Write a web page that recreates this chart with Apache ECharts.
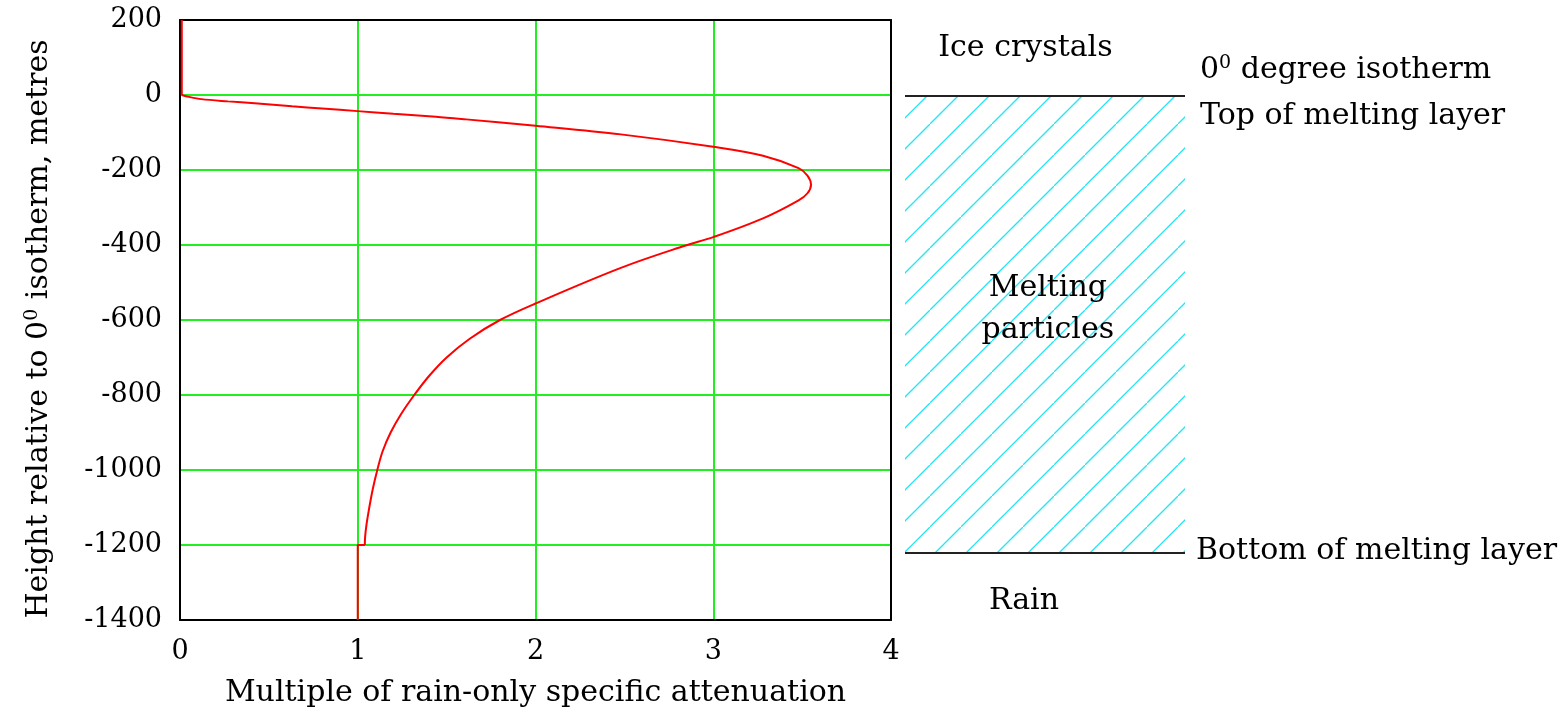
<!DOCTYPE html>
<html><head><meta charset="utf-8">
<script src="https://cdn.jsdelivr.net/npm/echarts@6/dist/echarts.min.js"></script>
<style>html,body{margin:0;padding:0;background:#fff}#c{width:1565px;height:713px}</style>
</head><body><div id="c"></div>
<script>
// ---- data ----
const attenuation = [0.01, 0.01, 0.05, 0.12, 0.27, 0.42, 0.63, 0.80, 1.00, 1.20, 1.44, 1.61, 2.00, 2.48, 3.00, 3.28, 3.48, 3.53, 3.55, 3.53, 3.48, 3.28, 3.00, 2.84, 2.48, 2.00, 1.80, 1.63, 1.50, 1.40, 1.318, 1.245, 1.185, 1.14, 1.11, 1.085, 1.065, 1.048, 1.04, 1.04, 1.00, 1.00];
const heightM     = [200, 0, -5, -11, -17, -22, -30, -36, -43, -50, -58, -65, -82, -105, -138, -162, -195, -215, -239, -262, -281, -329, -379, -402, -461, -556, -600, -650, -700, -750, -800, -850, -900, -950, -1000, -1050, -1100, -1150, -1194, -1200, -1200, -1400];
const xTickValues = [0, 1, 2, 3, 4];
const yTickValues = [200, 0, -200, -400, -600, -800, -1000, -1200, -1400];
const meltingTop = 0;
const meltingBottom = -1200;
const labelIce = 'Ice crystals';
const labelIsoA = '0';
const labelIsoSup = '0';
const labelIsoB = ' degree isotherm';
const labelTop = 'Top of melting layer';
const labelMelting = ['Melting', 'particles'];
const labelBottom = 'Bottom of melting layer';
const labelRain = 'Rain';
const xTitle = 'Multiple of rain-only specific attenuation';
const yTitleA = 'Height relative to 0';
const yTitleSup = '0';
const yTitleB = ' isotherm, metres';

const FONT = 'DejaVu Serif';
const curve = attenuation.map((v, i) => [v, heightM[i]]);
// straight pieces (vertical segment above 0 m, step at the layer bottom) and the smooth profile between
const iTop = heightM.indexOf(meltingTop);
const iBot = heightM.indexOf(meltingBottom);
const topPart = curve.slice(0, iTop + 1);
const midPart = curve.slice(iTop, iBot + 1);
const botPart = curve.slice(iBot);

function hatchCanvas() {
  const s = 31, c = document.createElement('canvas');
  c.width = s; c.height = s;
  const g = c.getContext('2d');
  g.strokeStyle = '#22e4f4'; g.lineWidth = 1.3;
  g.beginPath(); g.moveTo(-3, s + 3); g.lineTo(s + 3, -3); g.stroke();
  return c;
}

const yMin = Math.min(...yTickValues), yMax = Math.max(...yTickValues);
const yInt = yTickValues[0] - yTickValues[1];
const xMin = Math.min(...xTickValues), xMax = Math.max(...xTickValues);

const chart = echarts.init(document.getElementById('c'), null, {renderer: 'canvas'});
const txt = {fontFamily: FONT, color: '#000'};
const richSup = {
  a: {fontFamily: FONT, fontSize: 30, color: '#000'},
  s: {fontFamily: FONT, fontSize: 19, color: '#000', verticalAlign: 'top', padding: [0, 0, 14, 0]}
};
const red = {color: '#ff0000', width: 2};

chart.setOption({
  animation: false,
  backgroundColor: '#fff',
  grid: [
    {left: 180, top: 20, width: 711, height: 609},
    {left: 905, top: 20, width: 280, height: 609}
  ],
  xAxis: [
    {gridIndex: 0, type: 'value', min: xMin, max: xMax, interval: 1,
     axisLine: {show: true, onZero: false, lineStyle: {color: '#000', width: 2}},
     axisTick: {show: false},
     axisLabel: {...txt, fontSize: 27, margin: 18, formatter: v => String(v)},
     splitLine: {show: true, showMinLine: false, showMaxLine: false, lineStyle: {color: '#22ee22', width: 2}},
     name: xTitle, nameLocation: 'middle', nameGap: 58,
     nameTextStyle: {...txt, fontSize: 30}},
    {gridIndex: 0, type: 'value', position: 'top', min: xMin, max: xMax, interval: 1,
     axisLine: {show: true, onZero: false, lineStyle: {color: '#000', width: 2}},
     axisTick: {show: false}, axisLabel: {show: false}, splitLine: {show: false}},
    {gridIndex: 1, type: 'value', min: 0, max: 1, show: false}
  ],
  yAxis: [
    {gridIndex: 0, type: 'value', min: yMin, max: yMax, interval: yInt,
     axisLine: {show: true, onZero: false, lineStyle: {color: '#000', width: 2}},
     axisTick: {show: false},
     axisLabel: {...txt, fontSize: 27, margin: 18, formatter: v => String(v)},
     splitLine: {show: true, showMinLine: false, showMaxLine: false, lineStyle: {color: '#22ee22', width: 2}},
     name: '{a|' + yTitleA + '}{s|' + yTitleSup + '}{a|' + yTitleB + '}',
     nameLocation: 'middle', nameRotate: 90, nameGap: 124,
     nameTextStyle: {...txt, fontSize: 30, rich: richSup, padding: [0, 18, 0, 0]}},
    {gridIndex: 0, type: 'value', position: 'right', min: yMin, max: yMax, interval: yInt,
     axisLine: {show: true, onZero: false, lineStyle: {color: '#000', width: 2}},
     axisTick: {show: false}, axisLabel: {show: false}, splitLine: {show: false}},
    {gridIndex: 1, type: 'value', min: yMin, max: yMax, show: false}
  ],
  series: [
    {type: 'line', xAxisIndex: 0, yAxisIndex: 0, data: topPart, showSymbol: false, lineStyle: red, z: 5},
    {type: 'line', xAxisIndex: 0, yAxisIndex: 0, data: midPart, showSymbol: false, smooth: 0.35, lineStyle: red, z: 5},
    {type: 'line', xAxisIndex: 0, yAxisIndex: 0, data: botPart, showSymbol: false, lineStyle: red, z: 5},
    {type: 'scatter', xAxisIndex: 2, yAxisIndex: 2, symbolSize: 0, silent: true,
     itemStyle: {opacity: 1},
     data: [
       {value: [0.43, 126], label: {show: true, position: 'inside', formatter: labelIce}},
       {value: [0.51, -560], label: {show: true, position: 'inside', lineHeight: 42, formatter: labelMelting.join('\n')}},
       {value: [0.425, -1326], label: {show: true, position: 'inside', formatter: labelRain}},
       {value: [1, meltingTop], label: {show: true, position: 'right', distance: 0, offset: [15, -26],
         formatter: '{a|' + labelIsoA + '}{s|' + labelIsoSup + '}{a|' + labelIsoB + '}'}},
       {value: [1, meltingTop], label: {show: true, position: 'right', distance: 0, offset: [15, 20], formatter: labelTop}},
       {value: [1, meltingBottom], label: {show: true, position: 'right', distance: 0, offset: [11, -2], formatter: labelBottom}}
     ],
     label: {fontFamily: FONT, fontSize: 30, color: '#000', opacity: 1, rich: richSup},
     markArea: {silent: true, itemStyle: {color: {image: hatchCanvas(), repeat: 'repeat'}, opacity: 1},
       data: [[{yAxis: meltingTop}, {yAxis: meltingBottom}]]},
     markLine: {silent: true, symbol: 'none', label: {show: false},
       lineStyle: {color: '#222', width: 2, type: 'solid', opacity: 1},
       data: [{yAxis: meltingTop}, {yAxis: meltingBottom}]}
    }
  ]
});
</script></body></html>
